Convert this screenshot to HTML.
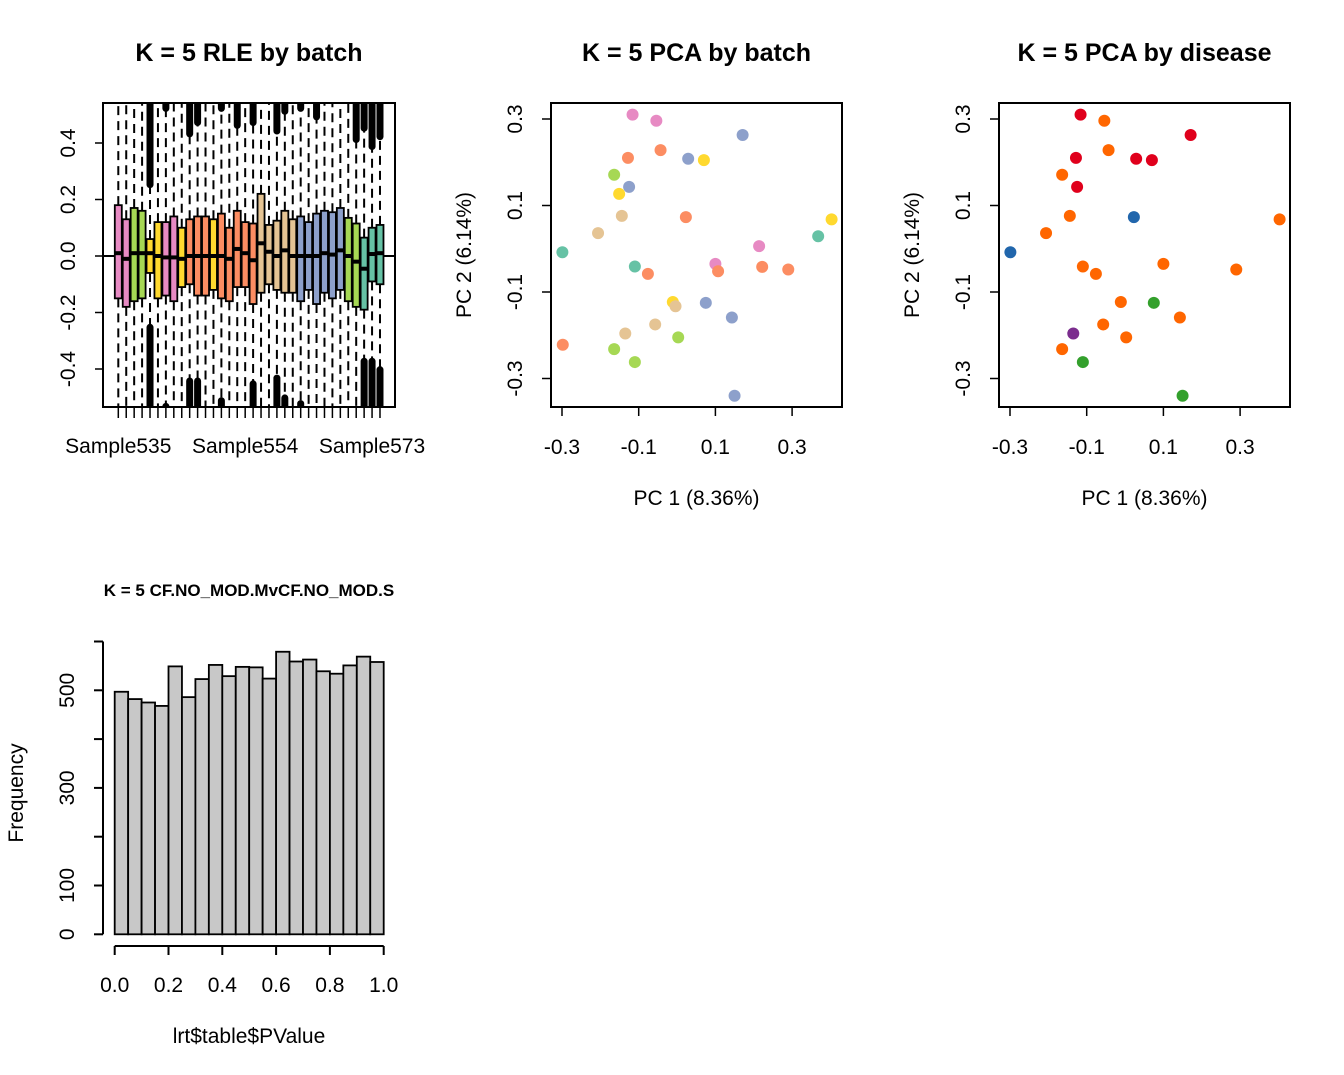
<!DOCTYPE html>
<html><head><meta charset="utf-8">
<style>
html,body{margin:0;padding:0;background:#fff;}
svg{display:block;font-family:"Liberation Sans",Arial,sans-serif;}
</style></head>
<body>
<svg id="fig" width="1344" height="1075" viewBox="0 0 1344 1075"></svg>
<script>
// ---- RLE data ----
const rleSamples = ["Sample535","Sample554","Sample573"];
const rleLabelIdx = [0,16,32];
const rleQ3 = [0.18,0.13,0.17,0.16,0.06,0.12,0.12,0.14,0.10,0.13,0.14,0.14,0.13,0.15,0.10,0.16,0.12,0.115,0.22,0.11,0.125,0.16,0.13,0.14,0.12,0.15,0.16,0.155,0.17,0.135,0.115,0.065,0.10,0.11];
const rleQ1 = [-0.15,-0.18,-0.16,-0.15,-0.06,-0.15,-0.14,-0.16,-0.11,-0.10,-0.14,-0.14,-0.12,-0.15,-0.16,-0.11,-0.11,-0.17,-0.13,-0.10,-0.12,-0.13,-0.13,-0.16,-0.12,-0.17,-0.13,-0.15,-0.12,-0.16,-0.18,-0.19,-0.09,-0.10];
const rleMed = [0.01,-0.01,0.01,0.01,0.01,0,-0.005,-0.005,-0.01,0,0,0,0,0,-0.01,0.025,0.01,-0.015,0.045,0.015,0,0.02,0,0,0,0,0.01,0.005,0.02,0,-0.02,-0.045,0.007,0.01];
const rleBatch = ["pink","pink","green","green","yellow","yellow","pink","pink","yellow","orange","orange","orange","yellow","orange","orange","orange","orange","orange","tan","tan","tan","tan","tan","blue","blue","blue","blue","blue","blue","green","green","teal","teal","teal"];
const rleOutTop = [null,null,null,null,0.24,null,0.51,null,null,0.42,0.46,null,null,0.51,null,0.45,null,0.46,null,null,0.43,0.50,null,0.51,null,0.48,null,null,null,null,0.40,0.44,0.375,0.41];
const rleOutBot = [null,null,null,null,-0.24,null,-0.52,null,null,-0.43,-0.43,null,null,-0.50,null,null,null,-0.44,null,null,-0.42,-0.49,null,-0.51,null,null,null,null,null,null,null,-0.36,-0.36,-0.39];
// ---- PCA data ----
const pc1 = [-0.116,-0.054,0.171,-0.043,-0.128,0.029,0.070,-0.164,-0.125,-0.151,-0.144,0.023,-0.206,0.403,0.368,0.214,-0.299,-0.110,0.100,0.107,-0.076,0.222,0.290,-0.011,-0.004,0.075,0.143,-0.057,-0.135,0.003,-0.298,-0.164,-0.110,0.150];
const pc2 = [0.310,0.296,0.263,0.228,0.210,0.208,0.205,0.171,0.143,0.127,0.076,0.073,0.036,0.068,0.029,0.006,-0.008,-0.041,-0.035,-0.052,-0.058,-0.042,-0.048,-0.123,-0.133,-0.125,-0.159,-0.175,-0.196,-0.205,-0.222,-0.232,-0.262,-0.340];
const pcaBatch = ["pink","pink","blue","orange","orange","blue","yellow","green","blue","yellow","tan","orange","tan","yellow","teal","pink","teal","teal","pink","orange","orange","orange","orange","yellow","tan","blue","blue","tan","tan","green","orange","green","green","blue"];
const pcaDisease = ["red","dor","red","dor","red","red","red","dor","red",null,"dor","dblue","dor","dor",null,null,"dblue","dor","dor",null,"dor",null,"dor","dor",null,"dgreen","dor","dor","purple","dor",null,"dor","dgreen","dgreen"];
const pcTicks = [-0.3,-0.1,0.1,0.3];
// ---- histogram ----
const histCounts = [497,482,475,468,549,486,523,552,529,548,547,524,579,559,563,539,534,551,569,558];
const histXTicks = [0,0.2,0.4,0.6,0.8,1.0];
const histYTicks = [0,100,300,500];

const COL = {pink:"#E78AC3",green:"#A6D854",yellow:"#FFD92F",orange:"#FC8D62",tan:"#E5C494",blue:"#8DA0CB",teal:"#66C2A5",
 red:"#E0001C",dor:"#FF6600",dblue:"#2166AC",dgreen:"#33A02C",purple:"#7B2D8E"};

const svg = document.getElementById('fig');
const NS = "http://www.w3.org/2000/svg";
const FS = 21;
function el(tag, attrs, parent){const e=document.createElementNS(NS,tag);for(const k in attrs)e.setAttribute(k,attrs[k]);(parent||svg).appendChild(e);return e;}
function txt(x,y,s,size,opts){opts=opts||{};const t=el('text',{x:x,y:y,'font-size':size,'text-anchor':opts.anchor||'middle','font-weight':opts.bold?'bold':'normal',fill:'#000'});if(opts.rot)t.setAttribute('transform','rotate(-90 '+x+' '+y+')');t.textContent=s;return t;}

// ===== RLE =====
{
 const g = el('g',{});
 
 
 const L=103,R=395,T=103,B=407;
 const y = v => 256 - v*282.5;
 const x = i => 118.3 + i*7.93;
 const clip = el('clipPath',{id:'rleclip'},g); el('rect',{x:L,y:T,width:R-L,height:B-T},clip);
 const inner = el('g',{'clip-path':'url(#rleclip)'},g);
 rleQ3.forEach((q3,i)=>{
  const cx=x(i);
  const w1=el('line',{x1:cx,x2:cx,y1:y(q3),y2:T,stroke:'#000','stroke-width':2,'stroke-dasharray':'9,6'},inner);
  
  const w2=el('line',{x1:cx,x2:cx,y1:y(rleQ1[i]),y2:B,stroke:'#000','stroke-width':2,'stroke-dasharray':'9,6'},inner);
  
  if(rleOutTop[i]!==null){const o=el('rect',{x:cx-3.5,y:T-10,width:7,height:y(rleOutTop[i])-T+10,rx:3.5,fill:'#000'},inner);}
  if(rleOutBot[i]!==null){const o=el('rect',{x:cx-3.5,y:y(rleOutBot[i]),width:7,height:B-y(rleOutBot[i])+10,rx:3.5,fill:'#000'},inner);}
 });
 el('line',{x1:L,x2:R,y1:y(0),y2:y(0),stroke:'#000','stroke-width':2},inner);
 rleQ3.forEach((q3,i)=>{
  const cx=x(i);
  const b=el('rect',{x:cx-3.5,y:y(q3),width:7,height:y(rleQ1[i])-y(q3),fill:COL[rleBatch[i]],stroke:'#000','stroke-width':1.8},inner);
  
  
  el('line',{x1:cx-3.5,x2:cx+3.5,y1:y(rleMed[i]),y2:y(rleMed[i]),stroke:'#000','stroke-width':4},inner);
 });
 el('rect',{x:L,y:T,width:R-L,height:B-T,fill:'none',stroke:'#000','stroke-width':2},g);
 [0.4,0.2,0,-0.2,-0.4].forEach(v=>{
  el('line',{x1:95,x2:L,y1:y(v),y2:y(v),stroke:'#000','stroke-width':1.5},g);
  const t=txt(75,y(v),v===0?'0.0':String(v),FS,{rot:true}); 
 });
 rleQ3.forEach((q,i)=>el('line',{x1:x(i),x2:x(i),y1:B,y2:418,stroke:'#000','stroke-width':1.5},g));
 rleSamples.forEach((s,k)=>{const t=txt(x(rleLabelIdx[k]),453,s,FS); });
 const tt=txt(249,61,'K = 5 RLE by batch',25,{bold:true}); 
}

// ===== PCA =====
function pca(off, colors, title, name){
 const g=el('g',{});
 
 
 const L=551+off,R=842+off,T=103,B=407;
 const x=v=>562+off+(v+0.3)*383.5;
 const y=v=>119+(0.3-v)*432.5;
 el('rect',{x:L,y:T,width:R-L,height:B-T,fill:'none',stroke:'#000','stroke-width':2},g);
 pcTicks.forEach(v=>{
  el('line',{x1:x(v),x2:x(v),y1:B,y2:B+9,stroke:'#000','stroke-width':1.5},g);
  const a=txt(x(v),454,String(v),FS); 
  el('line',{x1:L-9,x2:L,y1:y(v),y2:y(v),stroke:'#000','stroke-width':1.5},g);
  const b=txt(522+off,y(v),String(v),FS,{rot:true}); 
 });
 pc1.forEach((v,i)=>{
  if(!colors[i])return;
  const c=el('circle',{cx:x(v),cy:y(pc2[i]),r:6,fill:COL[colors[i]]},g);
  
  
 });
 const t=txt((L+R)/2,61,title,25,{bold:true}); 
 const xl=txt((L+R)/2,505,'PC 1 (8.36%)',FS); 
 const yl=txt(471+off,255,'PC 2 (6.14%)',FS,{rot:true}); 
}
pca(0,pcaBatch,'K = 5 PCA by batch','pca-batch-plot');
pca(448,pcaDisease,'K = 5 PCA by disease','pca-disease-plot');

// ===== Histogram =====
{
 const g=el('g',{});
 
 
 const x=v=>114.7+v*269;
 const y=v=>934.3-v*0.488;
 histCounts.forEach((c,i)=>{
  const r=el('rect',{x:x(i*0.05),y:y(c),width:x(0.05)-x(0),height:y(0)-y(c),fill:'#C8C8C8',stroke:'#000','stroke-width':1.8},g);
  
  
 });
 el('line',{x1:x(0),x2:x(1),y1:946,y2:946,stroke:'#000','stroke-width':2},g);
 histXTicks.forEach(v=>{
  el('line',{x1:x(v),x2:x(v),y1:946,y2:955,stroke:'#000','stroke-width':2},g);
  const t=txt(x(v),992,v.toFixed(1),FS); 
 });
 el('line',{x1:103,x2:103,y1:y(0),y2:y(600),stroke:'#000','stroke-width':2},g);
 for(let v=0;v<=600;v+=100) el('line',{x1:94,x2:103,y1:y(v),y2:y(v),stroke:'#000','stroke-width':2},g);
 histYTicks.forEach(v=>{const t=txt(74,y(v),String(v),FS,{rot:true}); });
 const tt=txt(249,596,'K = 5 CF.NO_MOD.MvCF.NO_MOD.S',17,{bold:true}); 
 const xl=txt(249,1043,'lrt$table$PValue',FS); 
 const yl=txt(23,793,'Frequency',FS,{rot:true}); 
}
</script>
</body></html>
